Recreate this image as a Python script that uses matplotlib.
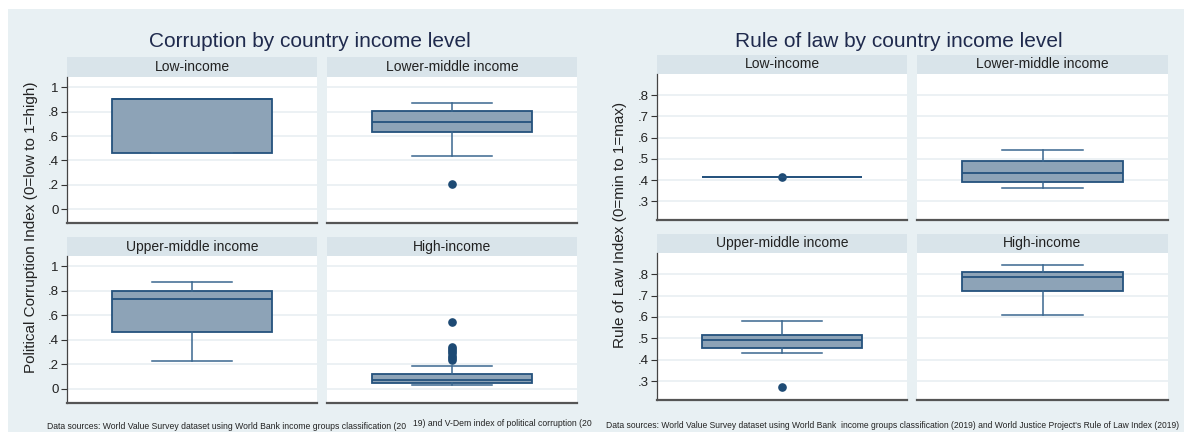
import matplotlib
matplotlib.use("Agg")
import matplotlib.pyplot as plt
from matplotlib.patches import Rectangle
from matplotlib.ticker import FuncFormatter

plt.rcParams["font.family"] = ["Liberation Sans", "DejaVu Sans"]

# ---- data: box statistics per income group ----
groups = ["Low-income", "Lower-middle income", "Upper-middle income", "High-income"]

# Political corruption index (0 = low, 1 = high)
corr_q1 = [0.46, 0.63, 0.466, 0.051]
corr_med = [0.907, 0.713, 0.73, 0.07]
corr_q3 = [0.907, 0.806, 0.80, 0.125]
corr_lo = [0.46, 0.432, 0.225, 0.029]
corr_hi = [0.907, 0.875, 0.87, 0.187]
corr_out = [[], [0.207], [], [0.548, 0.34, 0.325, 0.31, 0.29, 0.27, 0.25, 0.24]]

# Rule of law index (0 = min, 1 = max)
rol_q1 = [0.412, 0.392, 0.455, 0.722]
rol_med = [0.412, 0.433, 0.492, 0.789]
rol_q3 = [0.412, 0.489, 0.517, 0.808]
rol_lo = [0.412, 0.363, 0.433, 0.611]
rol_hi = [0.412, 0.542, 0.583, 0.842]
rol_out = [[0.412], [], [0.272], []]

corr_ticks = [0, 0.2, 0.4, 0.6, 0.8, 1]
rol_ticks = [0.3, 0.4, 0.5, 0.6, 0.7, 0.8]

# ---- styling ----
W, H = 1184, 432
BG = "#e8f0f3"
STRIP = "#d9e4ea"
BOX_FILL = "#8da3b7"
BOX_EDGE = "#24527d"
WHISK = "#3a6790"
GRID = "#e9eff2"
TITLE_C = "#1f2a4d"

fig = plt.figure(figsize=(W / 100, H / 100), dpi=100, facecolor="white")

# light panel background below the white top band
fig.patches.append(Rectangle((8 / W, 0), 1 - 8 / W, 1 - 9 / H,
                             transform=fig.transFigure, facecolor=BG,
                             edgecolor="none", zorder=-10))


def px_axes(x0, y0, x1, y1):
    return [x0 / W, 1 - y1 / H, (x1 - x0) / W, (y1 - y0) / H]


def strip_label(x0, y0, x1, y1, text):
    ax = fig.add_axes(px_axes(x0, y0, x1, y1))
    ax.set_facecolor(STRIP)
    for s in ax.spines.values():
        s.set_visible(False)
    ax.set_xticks([])
    ax.set_yticks([])
    ax.text(0.5, 0.5, text, ha="center", va="center", fontsize=10, color="#222222",
            transform=ax.transAxes)


def lead_fmt(v, _pos):
    s = f"{v:.1f}".rstrip("0").rstrip(".")
    if s.startswith("0."):
        s = s[1:]
    return s


def panel(rect, strip, name, q1, med, q3, lo, hi, out, ylim, ticks, first_col=True):
    strip_label(*strip, name)
    ax = fig.add_axes(px_axes(*rect))
    ax.set_facecolor("white")
    stats = [dict(q1=q1, med=med, q3=q3, whislo=lo, whishi=hi, fliers=out)]
    ax.bxp(stats, positions=[0.5], widths=0.64, patch_artist=True,
           showfliers=True,
           boxprops=dict(facecolor=BOX_FILL, edgecolor=BOX_EDGE, linewidth=1.3),
           medianprops=dict(color=BOX_EDGE, linewidth=1.3),
           whiskerprops=dict(color=WHISK, linewidth=1.1),
           capprops=dict(color=WHISK, linewidth=1.1),
           capwidths=0.32,
           flierprops=dict(marker="o", markersize=5.2, markerfacecolor="#1d4a74",
                           markeredgecolor="#1d4a74"))
    ax.set_xlim(0, 1)
    ax.set_ylim(*ylim)
    ax.set_xticks([])
    ax.set_yticks(ticks)
    ax.yaxis.set_major_formatter(FuncFormatter(lead_fmt))
    ax.tick_params(axis="y", length=4 if first_col else 0, width=0.8, color="#333333",
                   labelsize=9.5, labelcolor="#222222", pad=2, labelleft=first_col)
    ax.grid(axis="y", color=GRID, linewidth=1.2)
    ax.set_axisbelow(True)
    for s in ["top", "right"]:
        ax.spines[s].set_visible(False)
    ax.spines["left"].set_visible(first_col)
    ax.spines["left"].set_color("#444444")
    ax.spines["left"].set_linewidth(0.9)
    ax.spines["bottom"].set_color("#555555")
    ax.spines["bottom"].set_linewidth(1.6)
    return ax


corr_ylim = (-0.115, 1.085)
rol_ylim = (0.212, 0.899)

# corruption facets
corr_layout = [
    ((67, 77, 317, 223), (67, 57, 317, 77)),
    ((327, 77, 577, 223), (327, 57, 577, 77)),
    ((67, 256, 317, 403), (67, 237, 317, 256)),
    ((327, 256, 577, 403), (327, 237, 577, 256)),
]
for i, (rect, strip) in enumerate(corr_layout):
    panel(rect, strip, groups[i], corr_q1[i], corr_med[i], corr_q3[i], corr_lo[i],
          corr_hi[i], corr_out[i], corr_ylim, corr_ticks, first_col=(i % 2 == 0))

# rule-of-law facets
rol_layout = [
    ((657, 74, 907, 220), (657, 55, 907, 74)),
    ((917, 74, 1168, 220), (917, 55, 1168, 74)),
    ((657, 253, 907, 400), (657, 234, 907, 253)),
    ((917, 253, 1168, 400), (917, 234, 1168, 253)),
]
for i, (rect, strip) in enumerate(rol_layout):
    panel(rect, strip, groups[i], rol_q1[i], rol_med[i], rol_q3[i], rol_lo[i],
          rol_hi[i], rol_out[i], rol_ylim, rol_ticks, first_col=(i % 2 == 0))

# titles
fig.text(310 / W, 1 - 47 / H, "Corruption by country income level", fontsize=15,
         color=TITLE_C, ha="center", va="baseline")
fig.text(899 / W, 1 - 47 / H, "Rule of law by country income level", fontsize=15,
         color=TITLE_C, ha="center", va="baseline")

# y-axis titles
fig.text(31 / W, 1 - 227 / H, "Political Corruption Index (0=low to 1=high)", fontsize=11,
         color="#222222", rotation=90, ha="center", va="center")
fig.text(620 / W, 1 - 225 / H, "Rule of Law Index (0=min to 1=max)", fontsize=11,
         color="#222222", rotation=90, ha="center", va="center")

# source notes
fig.text(47 / W, 1 - 426.5 / H,
         "Data sources: World Value Survey dataset using World Bank income groups classification (20",
         fontsize=6.2, color="#222222", ha="left", va="center")
fig.text(413 / W, 1 - 423.5 / H, "19) and V-Dem index of political corruption (20",
         fontsize=6.2, color="#222222", ha="left", va="center")
fig.text(606 / W, 1 - 426 / H,
         "Data sources: World Value Survey dataset using World Bank  income groups classification (2019) "
         "and World Justice Project's Rule of Law Index (2019)",
         fontsize=6.15, color="#222222", ha="left", va="center")

fig.savefig("out.png", dpi=100, facecolor="white")
